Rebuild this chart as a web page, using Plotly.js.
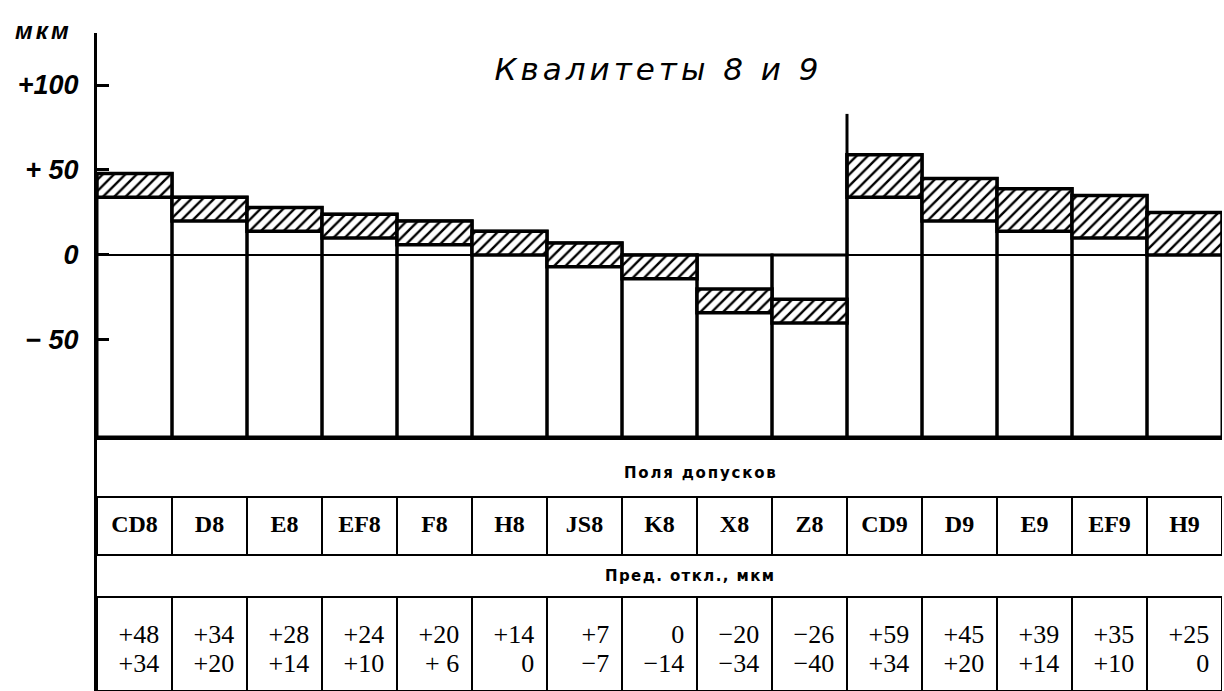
<!DOCTYPE html>
<html>
<head>
<meta charset="utf-8">
<script src="https://cdn.plot.ly/plotly-3.0.1.min.js"></script>
<style>html,body{margin:0;padding:0;background:#fff;}#chart{width:1224px;height:691px;}</style>
</head>
<body>
<div id="chart"></div>
<script>
// ---- data ----
const fields = ["CD8","D8","E8","EF8","F8","H8","JS8","K8","X8","Z8","CD9","D9","E9","EF9","H9"];
const upperDev = [48, 34, 28, 24, 20, 14, 7, 0, -20, -26, 59, 45, 39, 35, 25];
const lowerDev = [34, 20, 14, 10, 6, 0, -7, -14, -34, -40, 34, 20, 14, 10, 0];
const upperLabels = ["+48","+34","+28","+24","+20","+14","+7","0","\u221220","\u221226","+59","+45","+39","+35","+25"];
const lowerLabels = ["+34","+20","+14","+10","+ 6","0","\u22127","\u221214","\u221234","\u221240","+34","+20","+14","+10","0"];
const yTickVals = [100, 50, 0, -50];
const yTickText = ["+100", "+ 50", "0", "\u2212 50"];
const chartTitle = "Квалитеты 8 и 9";
const unitLabel = "мкм";
const rowHeader1 = "Поля допусков";
const rowHeader2 = "Пред. откл., мкм";

// ---- layout constants ----
const Y_MIN = -107.1, Y_MAX = 130.6;
const xs = fields.map((_, i) => i);
const black = "#000";

const traces = [];
// column outlines from bottom of chart up to the field (or zero line)
traces.push({
  type: "bar", x: xs,
  base: fields.map(() => Y_MIN),
  y: upperDev.map(u => Math.max(u, 0) - Y_MIN),
  width: 1,
  marker: {color: "rgba(0,0,0,0)", line: {color: black, width: 3}},
  hoverinfo: "skip", showlegend: false, xaxis: "x", yaxis: "y"
});
// hatched tolerance fields
traces.push({
  type: "bar", x: xs,
  base: lowerDev,
  y: upperDev.map((u, i) => u - lowerDev[i]),
  width: 1,
  marker: {color: "white", line: {color: black, width: 3.5},
    pattern: {shape: "/", size: 8, solidity: 0.3, fgcolor: black, bgcolor: "white", fillmode: "replace"}},
  hoverinfo: "skip", showlegend: false, xaxis: "x", yaxis: "y"
});
// table: name cells
traces.push({
  type: "bar", x: xs, base: fields.map(() => 136), y: fields.map(() => 58), width: 1,
  marker: {color: "rgba(0,0,0,0)", line: {color: black, width: 2}},
  hoverinfo: "skip", showlegend: false, xaxis: "x", yaxis: "y2"
});
// table: value cells
traces.push({
  type: "bar", x: xs, base: fields.map(() => 0), y: fields.map(() => 94), width: 1,
  marker: {color: "rgba(0,0,0,0)", line: {color: black, width: 2}},
  hoverinfo: "skip", showlegend: false, xaxis: "x", yaxis: "y2"
});
// names
traces.push({
  type: "scatter", mode: "text", x: xs, y: fields.map(() => 165), text: fields,
  textposition: "middle center",
  textfont: {family: "Liberation Serif", size: 24, color: black, weight: 700},
  hoverinfo: "skip", showlegend: false, xaxis: "x", yaxis: "y2"
});
// upper deviations
traces.push({
  type: "scatter", mode: "text", x: xs.map(i => i + 0.33), y: fields.map(() => 55), text: upperLabels,
  textposition: "middle left",
  textfont: {family: "Liberation Serif", size: 26, color: black},
  hoverinfo: "skip", showlegend: false, xaxis: "x", yaxis: "y2"
});
// lower deviations
traces.push({
  type: "scatter", mode: "text", x: xs.map(i => i + 0.33), y: fields.map(() => 26), text: lowerLabels,
  textposition: "middle left",
  textfont: {family: "Liberation Serif", size: 26, color: black},
  hoverinfo: "skip", showlegend: false, xaxis: "x", yaxis: "y2"
});

const layout = {
  width: 1224, height: 691,
  margin: {l: 97, r: 2, t: 33, b: 0},
  paper_bgcolor: "white", plot_bgcolor: "white",
  barmode: "overlay", bargap: 0,
  showlegend: false,
  title: {
    text: '<span style="letter-spacing:4px">' + chartTitle + '</span>',
    x: 0.538, xref: "container", xanchor: "center",
    y: 0.9, yref: "container", yanchor: "middle",
    font: {family: "DejaVu Sans", size: 31, style: "italic", color: black}
  },
  xaxis: {
    range: [-0.5, 14.5], anchor: "y", showgrid: false, zeroline: false,
    showticklabels: false, ticks: "", showline: true, linecolor: black, linewidth: 3,
    fixedrange: true
  },
  yaxis: {
    domain: [254/658, 1], range: [Y_MIN, Y_MAX], anchor: "x",
    showgrid: false, zeroline: true, zerolinecolor: black, zerolinewidth: 2,
    showline: true, linecolor: black, linewidth: 3,
    ticks: "inside", ticklen: 12, tickwidth: 3, tickcolor: black,
    tickvals: yTickVals, ticktext: yTickText, ticklabelstandoff: 10,
    tickfont: {family: "Liberation Sans", size: 27, style: "italic", weight: 700, color: black},
    fixedrange: true
  },
  yaxis2: {
    domain: [0, 254/658], range: [0, 254], anchor: "x",
    showgrid: false, zeroline: false, showticklabels: false, ticks: "",
    showline: true, linecolor: black, linewidth: 3, fixedrange: true
  },
  annotations: [
    {text: '<span style="letter-spacing:3px">' + unitLabel + '</span>', xref: "paper", yref: "paper", x: -0.048, y: 1.004, xanchor: "center", yanchor: "middle",
     showarrow: false, font: {family: "Liberation Sans", size: 24, style: "italic", weight: 700, color: black}},
    {text: '<span style="letter-spacing:1.8px">' + rowHeader1 + '</span>', xref: "x", yref: "y2", x: 7.55, y: 218,
     showarrow: false, font: {family: "DejaVu Sans", size: 15, weight: 700, color: black}},
    {text: '<span style="letter-spacing:1.4px">' + rowHeader2 + '</span>', xref: "x", yref: "y2", x: 7.4, y: 115,
     showarrow: false, font: {family: "DejaVu Sans", size: 15, weight: 700, color: black}}
  ],
  shapes: [
    // separator between quality grades 8 and 9
    {type: "line", xref: "x", yref: "y", x0: 9.5, x1: 9.5, y0: 0, y1: 83, line: {color: black, width: 3}}
  ]
};

Plotly.newPlot("chart", traces, layout, {displayModeBar: false, staticPlot: true});
</script>
</body>
</html>
